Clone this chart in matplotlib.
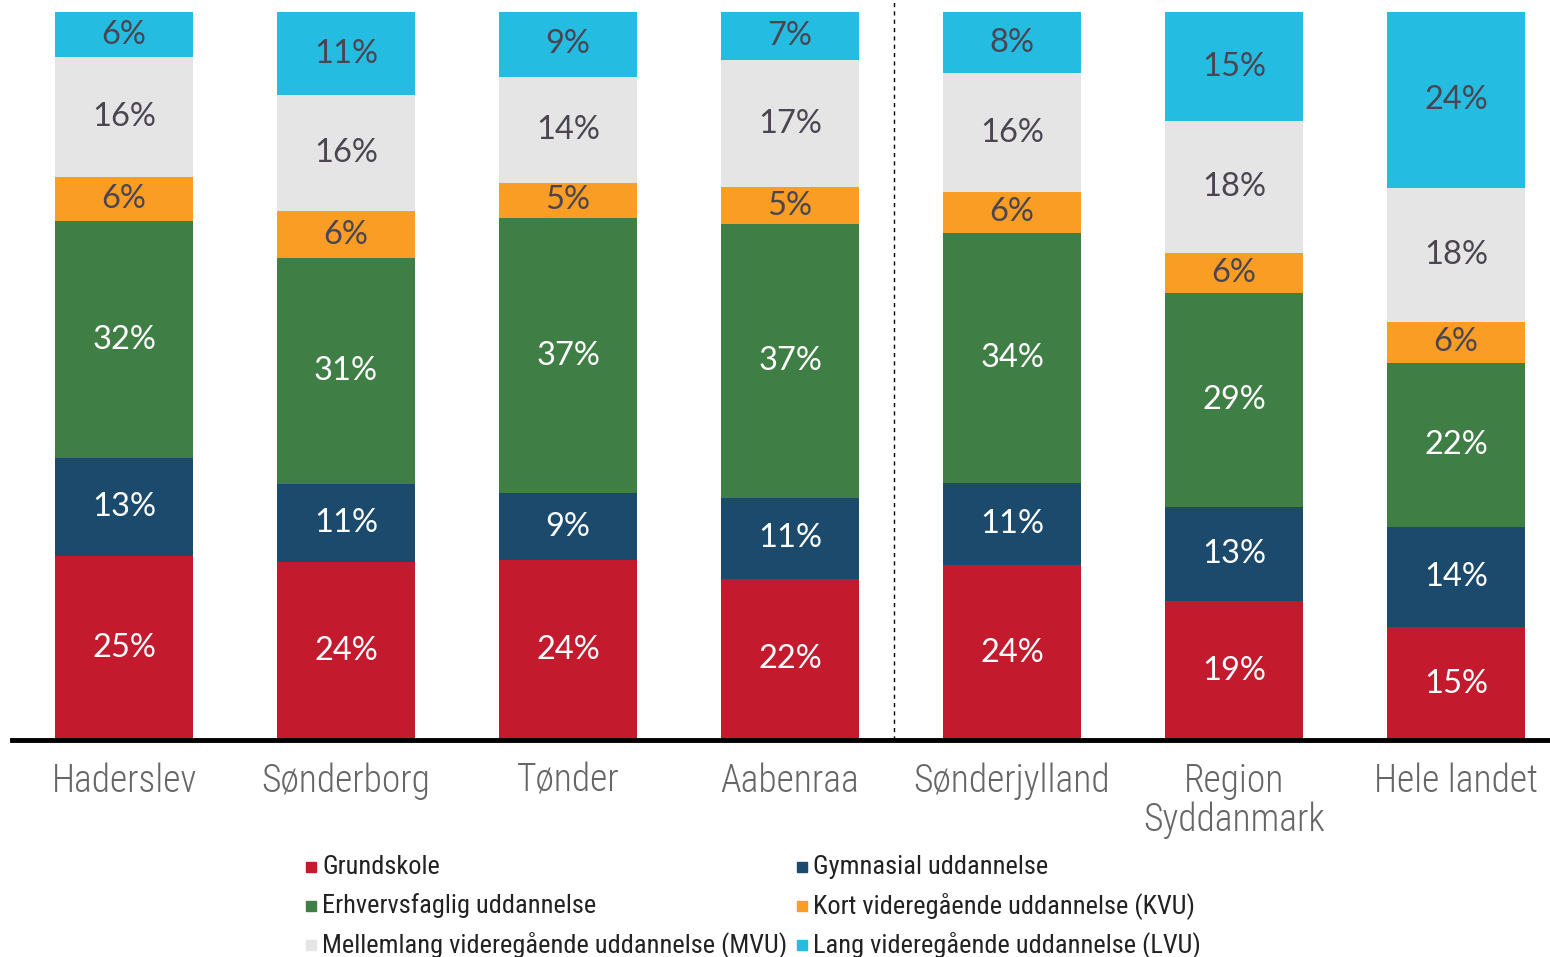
import numpy as np
import matplotlib.pyplot as plt
from matplotlib.patches import Rectangle

# ---------- DATA ----------
areas = ["Haderslev", "Sønderborg", "Tønder", "Aabenraa",
         "Sønderjylland", "Region\nSyddanmark", "Hele landet"]

levels = ["Grundskole", "Gymnasial uddannelse", "Erhvervsfaglig uddannelse",
          "Kort videregående uddannelse (KVU)",
          "Mellemlang videregående uddannelse (MVU)",
          "Lang videregående uddannelse (LVU)"]

grundskole = [25.1, 24.4, 24.4, 22.1, 24.0, 19.1, 15.4]
gymnasial = [13.4, 10.7, 9.1, 11.1, 11.3, 13.0, 13.7]
erhverv = [32.4, 30.9, 37.4, 37.4, 34.3, 29.3, 22.4]
kvu = [6.0, 6.4, 4.8, 5.1, 5.6, 5.6, 5.6]
mvu = [16.4, 15.9, 14.4, 17.4, 16.3, 18.1, 18.3]
lvu = [6.2, 11.4, 8.8, 6.6, 8.4, 15.0, 24.0]

colors = ["#C41A2E", "#1B4A6D", "#3F7E45", "#F99D25", "#E5E5E5", "#25BCE2"]
text_cols = ["white", "white", "white", "#4A4550", "#4A4550", "#4A4550"]

CAT_FONT = ["Roboto Condensed", "Liberation Sans Narrow", "Lato", "DejaVu Sans"]

# ---------- PLOT ----------
series = np.array([grundskole, gymnasial, erhverv, kvu, mvu, lvu])
heights = series / series.sum(axis=0) * 100
x = np.arange(len(areas))

fig = plt.figure(figsize=(15.5, 9.57), dpi=100)
ax = fig.add_axes([0.00774, 0.2267, 0.99226, 0.7608])

bottom = np.zeros(len(areas))
for i in range(len(levels)):
    ax.bar(x, heights[i], 0.62, bottom=bottom, color=colors[i], label=levels[i])
    for j in range(len(areas)):
        ax.text(x[j], bottom[j] + heights[i][j] / 2, f"{series[i][j]:.0f}%",
                ha="center", va="center", fontsize=23.5, color=text_cols[i],
                family="Lato")
    bottom += heights[i]

ax.set_xlim(-0.5045, 6.423)
ax.set_ylim(0, 100)
for s in ax.spines.values():
    s.set_visible(False)
ax.axhline(0, color="black", lw=3.5, clip_on=False)
ax.plot([3.47, 3.47], [0, 101.7], color="black", lw=1, ls=(0, (3, 3)), clip_on=False)

ax.set_yticks([])
ax.set_xticks(x)
ax.set_xticklabels(areas, fontsize=27, color="#666666", linespacing=1.05,
                   family=CAT_FONT, fontweight="light")
ax.tick_params(axis="x", length=0, pad=16)
for lab in ax.get_xticklabels():
    lab.set_verticalalignment("top")

# legend, two columns filled row by row
col_x = [306, 797]
row_y = [867, 906, 945]
W, H = 1550, 957
for k, name in enumerate(levels):
    px = col_x[k % 2]
    py = row_y[k // 2]
    fig.patches.append(Rectangle((px / W, 1 - (py + 5) / H), 10 / W, 10 / H,
                                 color=colors[k], transform=fig.transFigure))
    fig.text((px + 16) / W, 1 - py / H, name, ha="left", va="center",
             fontsize=19, color="#222222", family=CAT_FONT)

fig.savefig("out.png", dpi=100)
